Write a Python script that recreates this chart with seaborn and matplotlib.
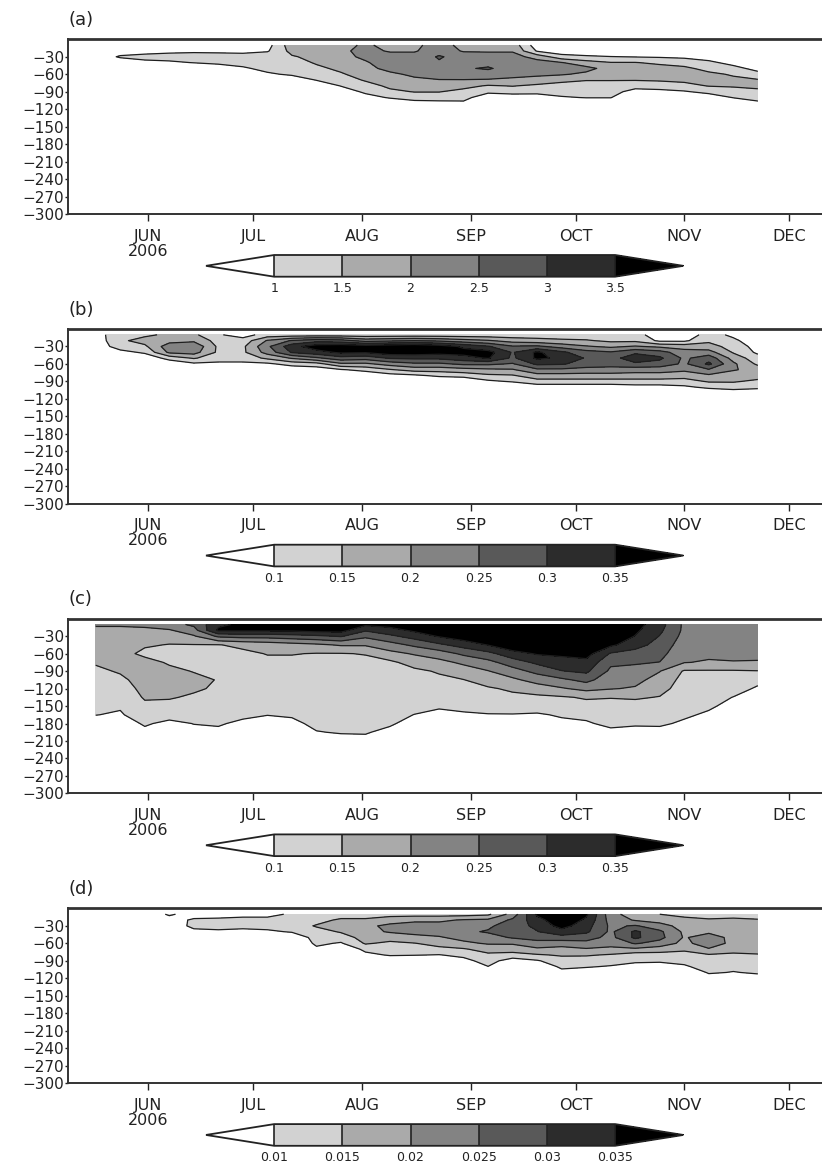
import numpy as np
import pandas as pd
import matplotlib
matplotlib.use("Agg")
import matplotlib.pyplot as plt
import matplotlib.dates as mdates
import seaborn as sns

sns.set_theme(style="ticks")
plt.rcParams["font.family"] = ["DejaVu Sans"]

# weekly profiles, 17 May - 22 Nov 2006 (one list per date, top to bottom)
dates = pd.date_range("2006-05-17", periods=28, freq="7D")
month_ticks = pd.date_range("2006-06-01", periods=7, freq="MS")
month_labels = ["JUN\n2006", "JUL", "AUG", "SEP", "OCT", "NOV", "DEC"]
depth_ticks = [-30, -60, -90, -120, -150, -180, -210, -240, -270, -300]

# (a)
depth_a = [-10, -20, -30, -40, -50, -60, -70, -80, -90, -100, -110, -120]
levels_a = [1, 1.5, 2, 2.5, 3, 3.5]
labels_a = ["1", "1.5", "2", "2.5", "3", "3.5"]
vals_a = [
    [0.5, 0.5, 0.5, 0.5, 0.5, 0.5, 0.5, 0.5, 0.5, 0.5, 0.5, 0.5],
    [0.5, 0.6, 1.1, 0.5, 0.5, 0.5, 0.5, 0.5, 0.5, 0.5, 0.5, 0.5],
    [0.5, 0.7, 1.25, 0.8, 0.5, 0.5, 0.5, 0.5, 0.5, 0.5, 0.5, 0.5],
    [0.5, 0.85, 1.25, 0.9, 0.5, 0.5, 0.5, 0.5, 0.5, 0.5, 0.5, 0.5],
    [0.5, 0.9, 1.25, 1.02, 0.5, 0.5, 0.5, 0.5, 0.5, 0.5, 0.5, 0.5],
    [0.5, 0.85, 1.3, 1.15, 0.6, 0.5, 0.5, 0.5, 0.5, 0.5, 0.5, 0.5],
    [0.5, 0.8, 1.3, 1.25, 0.9, 0.5, 0.5, 0.5, 0.5, 0.5, 0.5, 0.5],
    [0.8, 0.95, 1.3, 1.3, 1.2, 0.9, 0.5, 0.5, 0.5, 0.5, 0.5, 0.5],
    [1.8, 1.65, 1.45, 1.3, 1.2, 1.1, 0.6, 0.5, 0.5, 0.5, 0.5, 0.5],
    [1.85, 1.75, 1.65, 1.55, 1.4, 1.2, 1.02, 0.6, 0.5, 0.5, 0.5, 0.5],
    [1.9, 1.9, 1.85, 1.75, 1.6, 1.45, 1.25, 1.02, 0.7, 0.5, 0.5, 0.5],
    [2.05, 2.15, 2.1, 1.95, 1.85, 1.7, 1.55, 1.3, 1.1, 0.8, 0.5, 0.5],
    [1.9, 1.95, 2.2, 2.25, 2.15, 1.9, 1.75, 1.6, 1.4, 1.05, 0.6, 0.5],
    [1.9, 1.95, 2.2, 2.3, 2.25, 2.1, 1.9, 1.7, 1.52, 1.2, 0.8, 0.5],
    [2.2, 2.3, 2.55, 2.45, 2.35, 2.2, 1.98, 1.75, 1.52, 1.2, 0.85, 0.5],
    [1.85, 1.95, 2.3, 2.4, 2.45, 2.25, 1.98, 1.65, 1.35, 1.15, 0.9, 0.5],
    [1.8, 1.95, 2.2, 2.35, 2.55, 2.3, 1.95, 1.45, 1.1, 0.7, 0.5, 0.5],
    [1.8, 1.95, 2.2, 2.3, 2.3, 2.15, 1.9, 1.52, 1.2, 0.7, 0.5, 0.5],
    [0.7, 0.95, 1.8, 2.2, 2.25, 2.1, 1.8, 1.4, 1.15, 0.75, 0.5, 0.5],
    [0.5, 0.7, 1.2, 2.02, 2.15, 2.05, 1.6, 1.35, 1.2, 0.95, 0.6, 0.5],
    [0.5, 0.6, 1.1, 1.7, 2.15, 1.9, 1.52, 1.3, 1.2, 1.02, 0.6, 0.5],
    [0.5, 0.55, 1.02, 1.52, 1.8, 1.75, 1.52, 1.3, 1.2, 1.02, 0.6, 0.5],
    [0.5, 0.55, 0.98, 1.52, 1.75, 1.7, 1.52, 1.2, 0.8, 0.5, 0.5, 0.5],
    [0.5, 0.55, 0.95, 1.4, 1.7, 1.7, 1.55, 1.25, 0.85, 0.5, 0.5, 0.5],
    [0.5, 0.55, 0.9, 1.3, 1.6, 1.7, 1.6, 1.35, 0.95, 0.5, 0.5, 0.5],
    [0.5, 0.5, 0.8, 1.1, 1.35, 1.6, 1.6, 1.52, 1.15, 0.7, 0.5, 0.5],
    [0.5, 0.5, 0.6, 0.85, 1.15, 1.45, 1.6, 1.55, 1.3, 1.02, 0.6, 0.5],
    [0.5, 0.5, 0.5, 0.6, 0.85, 1.15, 1.55, 1.6, 1.4, 1.15, 0.9, 0.6],
]

# (b)
depth_b = [-10, -20, -30, -40, -50, -60, -70, -80, -90, -100, -110]
levels_b = [0.1, 0.15, 0.2, 0.25, 0.3, 0.35]
labels_b = ["0.1", "0.15", "0.2", "0.25", "0.3", "0.35"]
vals_b = [
    [0.08, 0.07, 0.06, 0.05, 0.05, 0.05, 0.05, 0.05, 0.05, 0.05, 0.05],
    [0.13, 0.14, 0.13, 0.08, 0.05, 0.05, 0.05, 0.05, 0.05, 0.05, 0.05],
    [0.14, 0.17, 0.14, 0.11, 0.06, 0.05, 0.05, 0.05, 0.05, 0.05, 0.05],
    [0.16, 0.18, 0.23, 0.21, 0.12, 0.06, 0.05, 0.05, 0.05, 0.05, 0.05],
    [0.16, 0.19, 0.24, 0.22, 0.155, 0.09, 0.05, 0.05, 0.05, 0.05, 0.05],
    [0.105, 0.13, 0.14, 0.14, 0.12, 0.09, 0.05, 0.05, 0.05, 0.05, 0.05],
    [0.08, 0.12, 0.14, 0.14, 0.12, 0.09, 0.05, 0.05, 0.05, 0.05, 0.05],
    [0.12, 0.205, 0.24, 0.22, 0.16, 0.09, 0.05, 0.05, 0.05, 0.05, 0.05],
    [0.12, 0.255, 0.33, 0.305, 0.205, 0.12, 0.06, 0.05, 0.05, 0.05, 0.05],
    [0.12, 0.28, 0.38, 0.33, 0.24, 0.13, 0.07, 0.05, 0.05, 0.05, 0.05],
    [0.12, 0.27, 0.39, 0.36, 0.28, 0.19, 0.095, 0.05, 0.05, 0.05, 0.05],
    [0.12, 0.23, 0.38, 0.355, 0.27, 0.19, 0.115, 0.06, 0.05, 0.05, 0.05],
    [0.12, 0.24, 0.39, 0.38, 0.305, 0.22, 0.145, 0.08, 0.05, 0.05, 0.05],
    [0.12, 0.25, 0.4, 0.38, 0.31, 0.24, 0.17, 0.09, 0.05, 0.05, 0.05],
    [0.12, 0.24, 0.38, 0.37, 0.31, 0.24, 0.17, 0.11, 0.05, 0.05, 0.05],
    [0.12, 0.22, 0.34, 0.37, 0.33, 0.26, 0.18, 0.12, 0.05, 0.05, 0.05],
    [0.12, 0.205, 0.305, 0.37, 0.355, 0.26, 0.19, 0.14, 0.09, 0.05, 0.05],
    [0.12, 0.18, 0.255, 0.295, 0.29, 0.245, 0.195, 0.145, 0.105, 0.05, 0.05],
    [0.12, 0.17, 0.26, 0.36, 0.36, 0.31, 0.24, 0.18, 0.13, 0.07, 0.05],
    [0.12, 0.16, 0.23, 0.31, 0.34, 0.305, 0.24, 0.18, 0.13, 0.07, 0.05],
    [0.12, 0.155, 0.205, 0.27, 0.295, 0.28, 0.23, 0.18, 0.13, 0.07, 0.05],
    [0.12, 0.14, 0.19, 0.255, 0.28, 0.27, 0.23, 0.18, 0.13, 0.07, 0.05],
    [0.12, 0.14, 0.205, 0.29, 0.33, 0.29, 0.22, 0.18, 0.13, 0.08, 0.05],
    [0.07, 0.09, 0.19, 0.27, 0.31, 0.28, 0.22, 0.18, 0.13, 0.08, 0.05],
    [0.07, 0.09, 0.18, 0.22, 0.24, 0.24, 0.21, 0.17, 0.13, 0.09, 0.05],
    [0.12, 0.14, 0.17, 0.22, 0.28, 0.31, 0.245, 0.19, 0.155, 0.11, 0.06],
    [0.09, 0.11, 0.13, 0.145, 0.18, 0.21, 0.205, 0.17, 0.155, 0.12, 0.07],
    [0.07, 0.07, 0.08, 0.09, 0.12, 0.14, 0.18, 0.17, 0.14, 0.11, 0.07],
]

# (c)
depth_c = [-10, -20, -30, -45, -60, -75, -90, -105, -120, -135, -150, -165, -180, -195, -210, -225]
levels_c = [0.1, 0.15, 0.2, 0.25, 0.3, 0.35]
labels_c = ["0.1", "0.15", "0.2", "0.25", "0.3", "0.35"]
vals_c = [
    [0.21, 0.18, 0.17, 0.17, 0.165, 0.155, 0.14, 0.13, 0.12, 0.115, 0.11, 0.101, 0.08, 0.07, 0.06, 0.05],
    [0.21, 0.18, 0.17, 0.17, 0.165, 0.16, 0.155, 0.14, 0.125, 0.115, 0.105, 0.095, 0.08, 0.07, 0.06, 0.05],
    [0.22, 0.18, 0.17, 0.155, 0.14, 0.165, 0.17, 0.17, 0.165, 0.155, 0.14, 0.125, 0.105, 0.09, 0.07, 0.05],
    [0.23, 0.195, 0.17, 0.148, 0.13, 0.145, 0.16, 0.165, 0.16, 0.153, 0.14, 0.115, 0.09, 0.07, 0.06, 0.05],
    [0.26, 0.23, 0.195, 0.148, 0.13, 0.135, 0.148, 0.16, 0.155, 0.145, 0.13, 0.115, 0.101, 0.09, 0.07, 0.05],
    [0.34, 0.36, 0.26, 0.148, 0.125, 0.13, 0.14, 0.148, 0.145, 0.14, 0.13, 0.12, 0.105, 0.09, 0.07, 0.05],
    [0.36, 0.36, 0.27, 0.16, 0.14, 0.13, 0.13, 0.13, 0.13, 0.125, 0.12, 0.11, 0.09, 0.07, 0.06, 0.05],
    [0.37, 0.36, 0.27, 0.17, 0.152, 0.14, 0.135, 0.13, 0.13, 0.125, 0.115, 0.101, 0.085, 0.07, 0.06, 0.05],
    [0.37, 0.36, 0.28, 0.18, 0.152, 0.14, 0.135, 0.13, 0.13, 0.125, 0.12, 0.105, 0.09, 0.07, 0.06, 0.05],
    [0.37, 0.37, 0.29, 0.19, 0.148, 0.14, 0.135, 0.135, 0.13, 0.13, 0.125, 0.12, 0.11, 0.098, 0.08, 0.06],
    [0.37, 0.37, 0.305, 0.205, 0.148, 0.14, 0.135, 0.135, 0.13, 0.13, 0.125, 0.12, 0.11, 0.103, 0.085, 0.06],
    [0.36, 0.305, 0.26, 0.205, 0.152, 0.14, 0.135, 0.135, 0.13, 0.13, 0.125, 0.12, 0.11, 0.103, 0.09, 0.06],
    [0.37, 0.33, 0.29, 0.23, 0.185, 0.14, 0.135, 0.13, 0.13, 0.125, 0.12, 0.115, 0.105, 0.09, 0.07, 0.05],
    [0.4, 0.36, 0.32, 0.26, 0.205, 0.17, 0.14, 0.135, 0.13, 0.125, 0.115, 0.099, 0.085, 0.07, 0.06, 0.05],
    [0.42, 0.4, 0.355, 0.29, 0.225, 0.185, 0.155, 0.14, 0.13, 0.12, 0.105, 0.09, 0.08, 0.07, 0.06, 0.05],
    [0.42, 0.41, 0.38, 0.32, 0.26, 0.21, 0.175, 0.149, 0.135, 0.125, 0.11, 0.095, 0.08, 0.07, 0.06, 0.05],
    [0.43, 0.42, 0.4, 0.352, 0.285, 0.235, 0.198, 0.17, 0.145, 0.13, 0.115, 0.098, 0.085, 0.07, 0.06, 0.05],
    [0.43, 0.43, 0.42, 0.39, 0.33, 0.275, 0.23, 0.19, 0.157, 0.14, 0.12, 0.098, 0.085, 0.07, 0.06, 0.05],
    [0.43, 0.43, 0.42, 0.4, 0.355, 0.31, 0.265, 0.22, 0.175, 0.14, 0.12, 0.095, 0.085, 0.07, 0.06, 0.05],
    [0.43, 0.43, 0.42, 0.4, 0.36, 0.33, 0.298, 0.24, 0.195, 0.145, 0.125, 0.105, 0.09, 0.07, 0.06, 0.05],
    [0.43, 0.43, 0.42, 0.4, 0.37, 0.335, 0.31, 0.265, 0.215, 0.155, 0.135, 0.11, 0.095, 0.08, 0.06, 0.05],
    [0.42, 0.41, 0.39, 0.36, 0.295, 0.26, 0.24, 0.22, 0.203, 0.152, 0.135, 0.125, 0.11, 0.09, 0.07, 0.05],
    [0.37, 0.36, 0.348, 0.32, 0.28, 0.255, 0.235, 0.215, 0.195, 0.155, 0.135, 0.12, 0.104, 0.09, 0.07, 0.05],
    [0.32, 0.31, 0.298, 0.28, 0.265, 0.249, 0.202, 0.18, 0.165, 0.148, 0.135, 0.12, 0.105, 0.09, 0.07, 0.05],
    [0.24, 0.24, 0.235, 0.225, 0.215, 0.202, 0.145, 0.135, 0.13, 0.125, 0.115, 0.105, 0.095, 0.08, 0.07, 0.05],
    [0.23, 0.23, 0.225, 0.22, 0.21, 0.195, 0.145, 0.13, 0.125, 0.115, 0.105, 0.095, 0.08, 0.07, 0.06, 0.05],
    [0.23, 0.23, 0.225, 0.22, 0.21, 0.198, 0.145, 0.125, 0.115, 0.099, 0.09, 0.08, 0.07, 0.06, 0.05, 0.05],
    [0.23, 0.23, 0.225, 0.22, 0.21, 0.197, 0.148, 0.11, 0.095, 0.085, 0.08, 0.07, 0.06, 0.05, 0.05, 0.05],
]

# (d)
depth_d = [-10, -20, -30, -40, -50, -60, -70, -80, -90, -100, -110, -120]
levels_d = [0.01, 0.015, 0.02, 0.025, 0.03, 0.035]
labels_d = ["0.01", "0.015", "0.02", "0.025", "0.03", "0.035"]
vals_d = [
    [0.005, 0.005, 0.005, 0.005, 0.005, 0.005, 0.005, 0.005, 0.005, 0.005, 0.005, 0.005],
    [0.005, 0.005, 0.005, 0.005, 0.005, 0.005, 0.005, 0.005, 0.005, 0.005, 0.005, 0.005],
    [0.005, 0.005, 0.005, 0.005, 0.005, 0.005, 0.005, 0.005, 0.005, 0.005, 0.005, 0.005],
    [0.011, 0.007, 0.005, 0.005, 0.005, 0.005, 0.005, 0.005, 0.005, 0.005, 0.005, 0.005],
    [0.007, 0.011, 0.012, 0.008, 0.005, 0.005, 0.005, 0.005, 0.005, 0.005, 0.005, 0.005],
    [0.008, 0.011, 0.012, 0.009, 0.005, 0.005, 0.005, 0.005, 0.005, 0.005, 0.005, 0.005],
    [0.009, 0.011, 0.012, 0.008, 0.005, 0.005, 0.005, 0.005, 0.005, 0.005, 0.005, 0.005],
    [0.009, 0.011, 0.012, 0.009, 0.005, 0.005, 0.005, 0.005, 0.005, 0.005, 0.005, 0.005],
    [0.0105, 0.012, 0.012, 0.0105, 0.006, 0.005, 0.005, 0.005, 0.005, 0.005, 0.005, 0.005],
    [0.011, 0.013, 0.0155, 0.013, 0.012, 0.011, 0.009, 0.005, 0.005, 0.005, 0.005, 0.005],
    [0.012, 0.016, 0.017, 0.0155, 0.0125, 0.0095, 0.005, 0.005, 0.005, 0.005, 0.005, 0.005],
    [0.012, 0.016, 0.019, 0.0185, 0.017, 0.0155, 0.0115, 0.0085, 0.005, 0.005, 0.005, 0.005],
    [0.013, 0.018, 0.021, 0.0205, 0.017, 0.014, 0.0125, 0.0105, 0.006, 0.005, 0.005, 0.005],
    [0.013, 0.019, 0.022, 0.021, 0.019, 0.0148, 0.0125, 0.0102, 0.006, 0.005, 0.005, 0.005],
    [0.013, 0.019, 0.022, 0.022, 0.0195, 0.017, 0.0135, 0.0098, 0.006, 0.005, 0.005, 0.005],
    [0.013, 0.0205, 0.023, 0.024, 0.0215, 0.019, 0.0145, 0.0112, 0.0085, 0.005, 0.005, 0.005],
    [0.014, 0.021, 0.024, 0.0255, 0.023, 0.0205, 0.017, 0.014, 0.012, 0.0099, 0.006, 0.005],
    [0.022, 0.026, 0.028, 0.028, 0.0255, 0.0205, 0.0175, 0.013, 0.0075, 0.005, 0.005, 0.005],
    [0.036, 0.033, 0.031, 0.0298, 0.0265, 0.0235, 0.019, 0.0145, 0.0095, 0.006, 0.005, 0.005],
    [0.04, 0.039, 0.037, 0.033, 0.028, 0.022, 0.0185, 0.0155, 0.013, 0.011, 0.0085, 0.005],
    [0.036, 0.034, 0.032, 0.031, 0.027, 0.0235, 0.0195, 0.0155, 0.0125, 0.0105, 0.007, 0.005],
    [0.022, 0.023, 0.024, 0.024, 0.0235, 0.0215, 0.019, 0.0145, 0.0125, 0.0095, 0.006, 0.005],
    [0.017, 0.0195, 0.0255, 0.031, 0.031, 0.0255, 0.019, 0.0125, 0.011, 0.008, 0.005, 0.005],
    [0.015, 0.018, 0.022, 0.026, 0.0265, 0.023, 0.0175, 0.013, 0.0105, 0.0085, 0.005, 0.005],
    [0.014, 0.016, 0.018, 0.019, 0.0195, 0.0185, 0.016, 0.013, 0.011, 0.0095, 0.006, 0.005],
    [0.013, 0.0155, 0.017, 0.019, 0.0225, 0.023, 0.0195, 0.0145, 0.013, 0.0115, 0.0105, 0.008],
    [0.013, 0.016, 0.017, 0.018, 0.0185, 0.0185, 0.017, 0.014, 0.0125, 0.011, 0.0098, 0.007],
    [0.012, 0.0155, 0.017, 0.018, 0.019, 0.0195, 0.0175, 0.0145, 0.013, 0.0115, 0.0105, 0.0085],
]

panels = [
    ("(a)", depth_a, vals_a, levels_a, labels_a),
    ("(b)", depth_b, vals_b, levels_b, labels_b),
    ("(c)", depth_c, vals_c, levels_c, labels_c),
    ("(d)", depth_d, vals_d, levels_d, labels_d),
]

# white below the first level, black above the last one
grays = ["white", "#d2d2d2", "#aaaaaa", "#838383", "#595959", "#2c2c2c", "black"]

W, H = 822.0, 1167.0
fig = plt.figure(figsize=(W / 100, H / 100), dpi=100)

xnum = mdates.date2num(dates)
jun1 = pd.Timestamp("2006-06-01")
x_left = mdates.date2num(jun1 + pd.Timedelta(days=-22.84))
x_right = mdates.date2num(jun1 + pd.Timedelta(days=194.6))

for k, (tag, depth, vals, levels, cb_labels) in enumerate(panels):
    top = 39.3 + 289.7 * k
    ax = fig.add_axes([68.3 / W, 1 - (top + 174.7) / H, (830 - 68.3) / W, 174.7 / H])
    z = np.array(vals).T
    cf = ax.contourf(xnum, depth, z, levels=levels, colors=grays, extend="both")
    ax.contour(xnum, depth, z, levels=levels, colors="#1e1e1e", linewidths=0.9)

    ax.set_xlim(x_left, x_right)
    ax.set_ylim(-300, 0)
    ax.set_xticks(mdates.date2num(month_ticks))
    ax.set_xticklabels(month_labels, fontsize=11.5, linespacing=1.0, color="#222222")
    ax.set_yticks(depth_ticks)
    ax.tick_params(axis="y", labelsize=11, length=2, width=1, pad=0.8, colors="#222222")
    ax.tick_params(axis="x", length=5, width=1, pad=5.5, colors="#222222")
    for side in ["left", "bottom"]:
        ax.spines[side].set_linewidth(1.4)
        ax.spines[side].set_color("#333333")
    ax.spines["top"].set_linewidth(2.0)
    ax.spines["top"].set_color("#333333")
    ax.spines["right"].set_visible(False)
    ax.text(0.0, 1.06, tag, transform=ax.transAxes, fontsize=13, ha="left", va="bottom", color="#222222")

    # colorbar with pointed ends
    cb_top = 255 + 289.7 * k
    cax = fig.add_axes([206 / W, 1 - (cb_top + 21.7) / H, (683.3 - 206) / W, 21.7 / H])
    cb = fig.colorbar(cf, cax=cax, orientation="horizontal", extendfrac=0.2, drawedges=True, ticks=levels)
    cb.ax.set_xticklabels(cb_labels)
    cb.ax.tick_params(length=0, labelsize=9, pad=4, colors="#222222")
    cb.outline.set_linewidth(1.3)
    cb.outline.set_edgecolor("#222222")
    cb.dividers.set_color("#222222")
    cb.dividers.set_linewidth(1.2)

fig.savefig("out.png", dpi=100)
